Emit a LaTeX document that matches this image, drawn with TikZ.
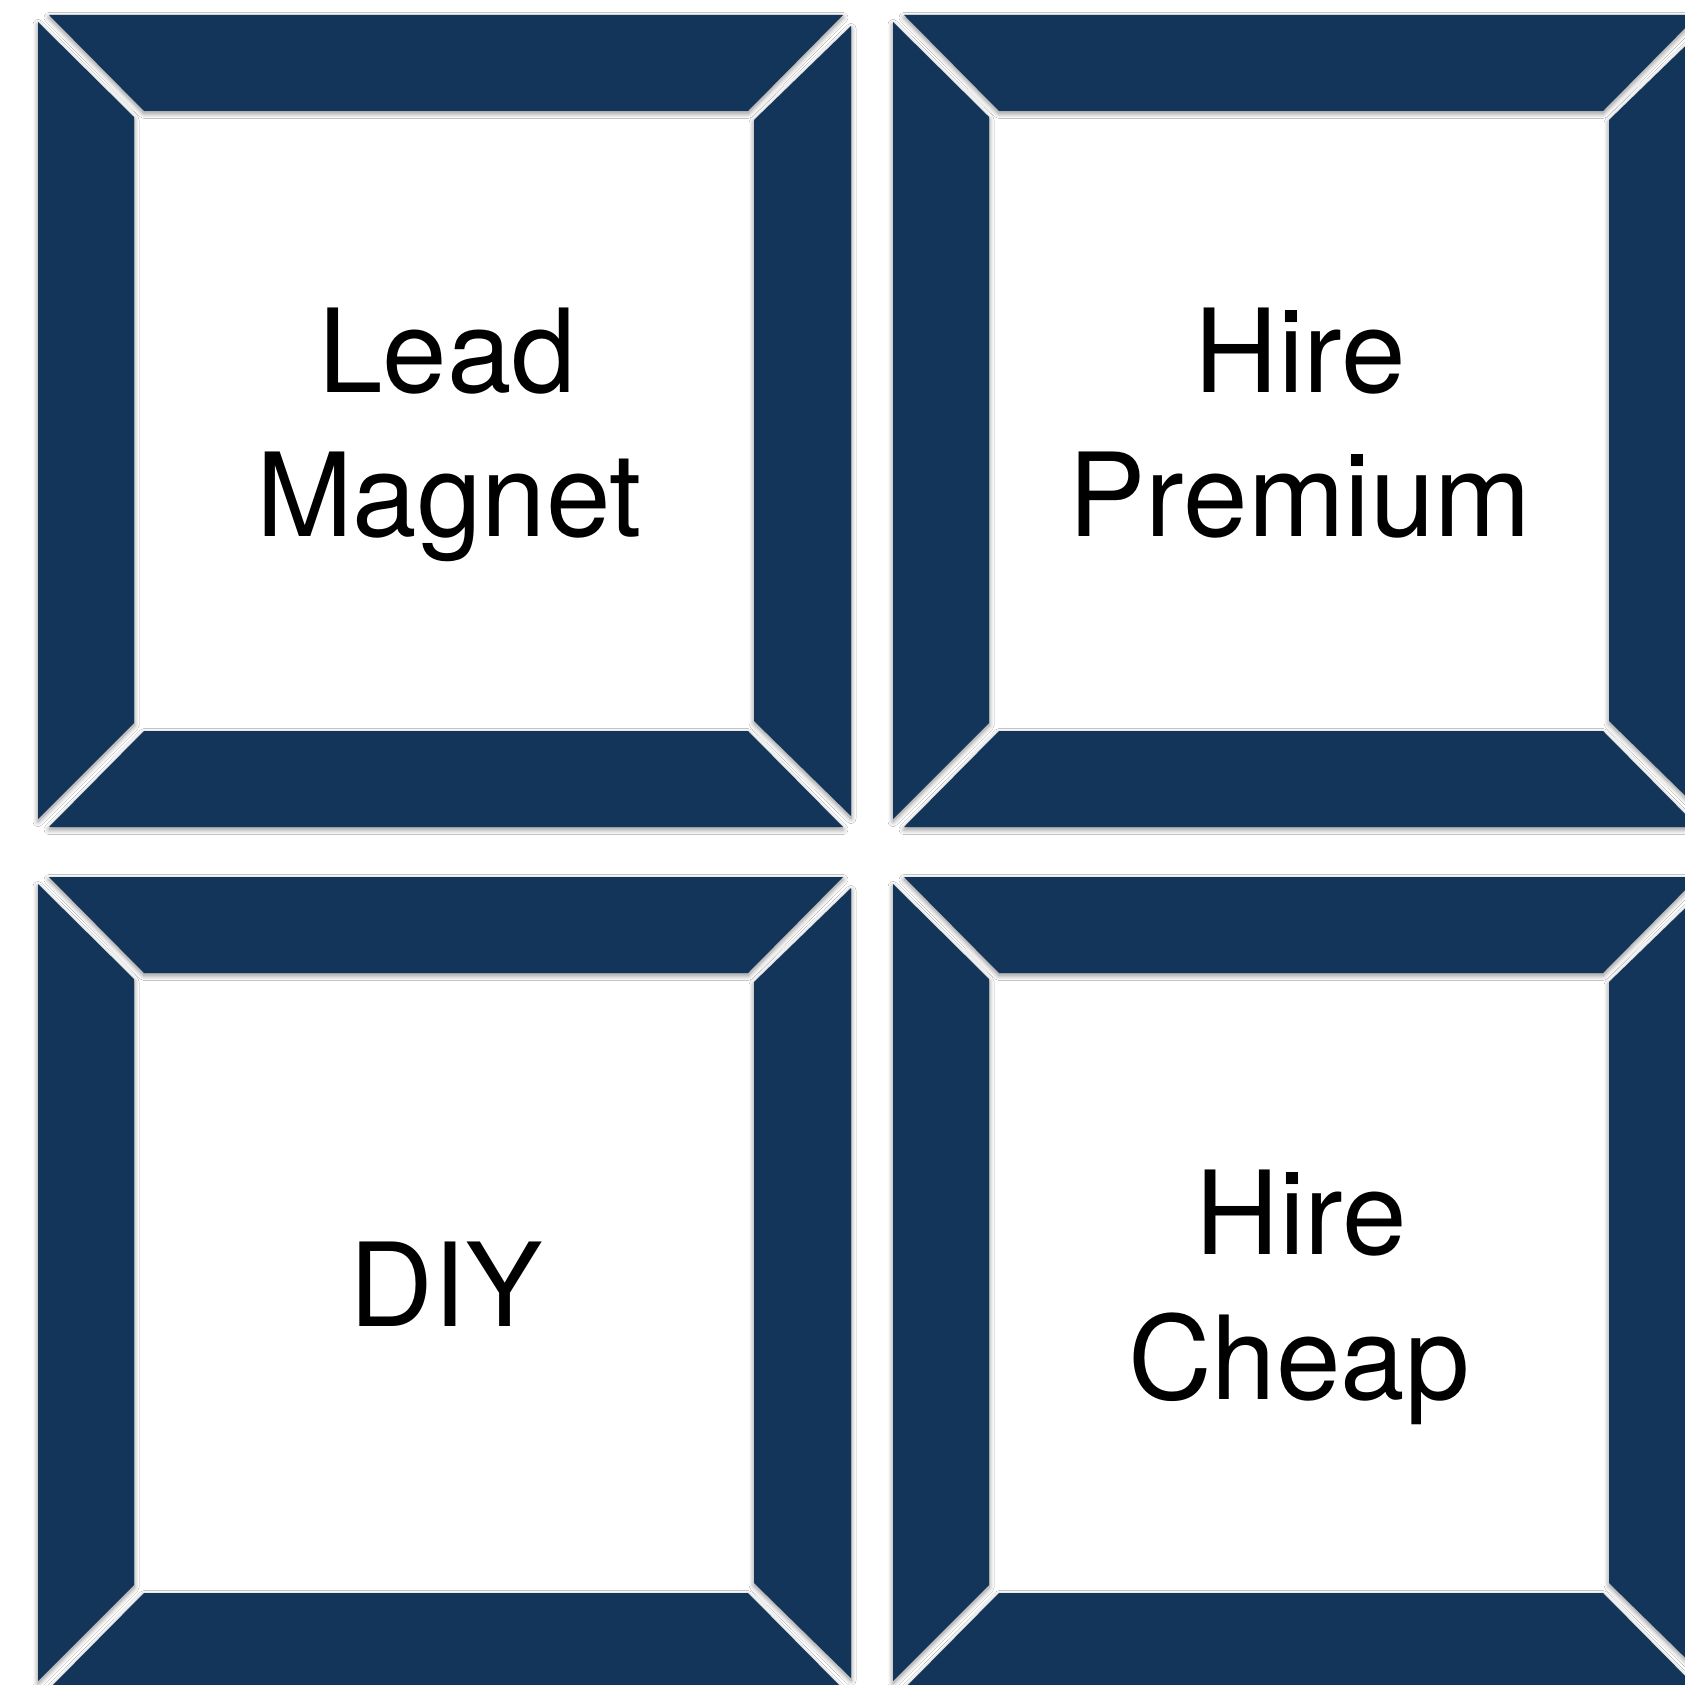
\documentclass[tikz,border=0pt]{standalone}
\usepackage{fontspec}
\setmainfont{TeX Gyre Heros}
\usetikzlibrary{shadows.blur}
\definecolor{navy}{RGB}{20,53,90}
\tikzset{
  piece/.style={fill=navy, blur shadow={shadow xshift=0pt, shadow yshift=-2.5pt, shadow blur radius=5pt, shadow blur steps=10, shadow opacity=45}},
  label/.style={anchor=base, inner sep=0pt, font=\fontsize{116}{140}\selectfont, text=black},
  frame/.pic={
    \path[piece] (11,0) -- (805,0) -- (710,96) -- (106,96) -- cycle;
    \path[piece] (0,7) -- (96,102) -- (96,708) -- (0,804) -- cycle;
    \path[piece] (813,11) -- (716,105) -- (716,706) -- (813,801) -- cycle;
    \path[piece] (11,812) -- (805,812) -- (710,716) -- (106,716) -- cycle;
  }
}
\begin{document}
\begin{tikzpicture}[x=1pt,y=-1pt]
\useasboundingbox (0,0) rectangle (1685,1685);
\clip (0,0) rectangle (1685,1685);
\fill[white] (0,0) rectangle (1685,1685);
\pic at (38,15) {frame};
\pic at (893,15) {frame};
\pic at (38,877) {frame};
\pic at (893,877) {frame};
\node[label] (lead) at (447,392) {Lead};
\node[label] (magnet) at (449,536) {Magnet};
\node[label] (hire1) at (1300,392) {Hire};
\node[label] (premium) at (1300,536) {Premium};
\node[label] (diy) at (446,1326) {DIY};
\node[label] (hire2) at (1301,1254) {Hire};
\node[label] (cheap) at (1299,1399) {Cheap};
\end{tikzpicture}
\end{document}
